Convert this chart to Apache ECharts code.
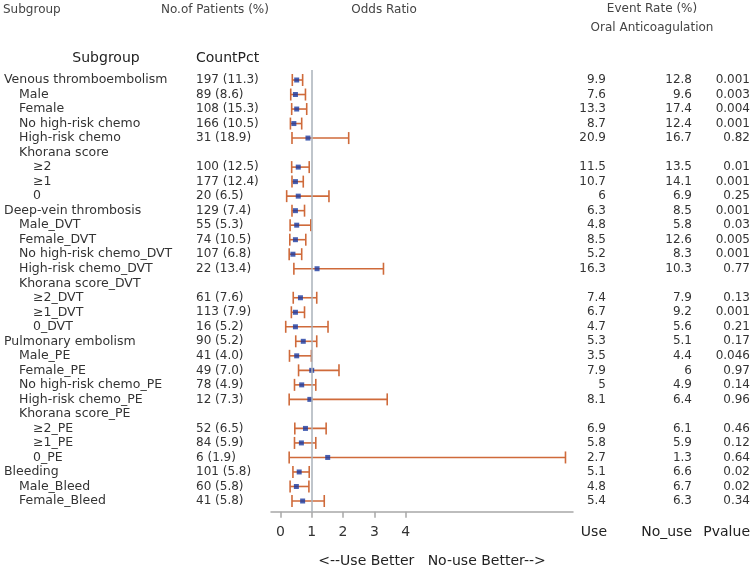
<!DOCTYPE html>
<html>
<head>
<meta charset="utf-8">
<script src="https://cdn.jsdelivr.net/npm/echarts@6/dist/echarts.min.js"></script>
<style>html,body{margin:0;padding:0;background:#fff;}#c{width:753px;height:570px;}</style>
</head>
<body>
<div id="c"></div>
<script>
const subgroups = ['Venous thromboembolism','Male','Female','No high-risk chemo','High-risk chemo','Khorana score','≥2','≥1','0','Deep-vein thrombosis','Male_DVT','Female_DVT','No high-risk chemo_DVT','High-risk chemo_DVT','Khorana score_DVT','≥2_DVT','≥1_DVT','0_DVT','Pulmonary embolism','Male_PE','Female_PE','No high-risk chemo_PE','High-risk chemo_PE','Khorana score_PE','≥2_PE','≥1_PE','0_PE','Bleeding','Male_Bleed','Female_Bleed'];
const levels = [1,2,2,2,2,2,3,3,3,1,2,2,2,2,2,3,3,3,1,2,2,2,2,2,3,3,3,1,2,2];
const counts = ['197 (11.3)','89 (8.6)','108 (15.3)','166 (10.5)','31 (18.9)','','100 (12.5)','177 (12.4)','20 (6.5)','129 (7.4)','55 (5.3)','74 (10.5)','107 (6.8)','22 (13.4)','','61 (7.6)','113 (7.9)','16 (5.2)','90 (5.2)','41 (4.0)','49 (7.0)','78 (4.9)','12 (7.3)','','52 (6.5)','84 (5.9)','6 (1.9)','101 (5.8)','60 (5.8)','41 (5.8)'];
const useRate = [9.9,7.6,13.3,8.7,20.9,null,11.5,10.7,6,6.3,4.8,8.5,5.2,16.3,null,7.4,6.7,4.7,5.3,3.5,7.9,5,8.1,null,6.9,5.8,2.7,5.1,4.8,5.4];
const noUseRate = [12.8,9.6,17.4,12.4,16.7,null,13.5,14.1,6.9,8.5,5.8,12.6,8.3,10.3,null,7.9,9.2,5.6,5.1,4.4,6,4.9,6.4,null,6.1,5.9,1.3,6.6,6.7,6.3];
const pValue = [0.001,0.003,0.004,0.001,0.82,null,0.01,0.001,0.25,0.001,0.03,0.005,0.001,0.77,null,0.13,0.001,0.21,0.17,0.046,0.97,0.14,0.96,null,0.46,0.12,0.64,0.02,0.02,0.34];
const oddsRatio = [0.52,0.48,0.52,0.43,0.88,null,0.57,0.48,0.57,0.48,0.52,0.48,0.40,1.17,null,0.64,0.48,0.48,0.73,0.52,1.00,0.68,0.94,null,0.80,0.67,1.51,0.60,0.51,0.71];
const ciLow = [0.38,0.33,0.36,0.32,0.37,null,0.36,0.37,0.20,0.37,0.31,0.30,0.28,0.43,null,0.41,0.35,0.17,0.49,0.29,0.58,0.45,0.28,null,0.46,0.45,0.28,0.40,0.31,0.37];
const ciHigh = [0.71,0.80,0.84,0.68,2.18,null,0.92,0.73,1.55,0.77,0.97,0.81,0.68,3.29,null,1.16,0.77,1.52,1.16,0.99,1.87,1.13,3.41,null,1.46,1.13,9.10,0.92,0.91,1.40];
const xTicks = [0,1,2,3,4];

const FONT = 'DejaVu Sans';
const TXT = '#333';

const ciData = [], ptData = [];
subgroups.forEach((s, i) => {
  if (oddsRatio[i] != null) {
    ciData.push([ciLow[i], ciHigh[i], i]);
    ptData.push([oddsRatio[i], i]);
  }
});

function fmtVal(arr) {
  return (v, i) => arr[i] == null ? '' : String(arr[i]);
}
function textAxis(pos, margin, align, formatter, size) {
  return {
    type: 'category', gridIndex: 1, position: pos, inverse: true, data: subgroups,
    axisLine: {show: false}, axisTick: {show: false}, splitLine: {show: false},
    axisLabel: {interval: 0, margin: margin, align: align, formatter: formatter,
      color: TXT, fontFamily: FONT, fontSize: size}
  };
}
const levelFmt = lv => (v, i) => levels[i] === lv ? v : '';

const chart = echarts.init(document.getElementById('c'), null, {renderer: 'canvas'});
chart.setOption({
  animation: false,
  backgroundColor: '#fff',
  grid: [
    {left: 271, right: 180, top: 70, bottom: 58.3},
    {left: 271, right: 180, top: 72.74, height: 435.6}
  ],
  xAxis: [
    {type: 'value', gridIndex: 0, min: -0.3, max: 9.34, position: 'bottom',
      axisLine: {show: true, onZero: false, lineStyle: {color: '#a8a8a8', width: 1.5}},
      axisTick: {show: true, length: 6, customValues: xTicks, lineStyle: {color: '#a8a8a8', width: 1.5}},
      axisLabel: {customValues: xTicks, margin: 14, color: TXT, fontFamily: FONT, fontSize: 14},
      splitLine: {show: false}},
    {type: 'value', gridIndex: 1, show: false}
  ],
  yAxis: [
    {type: 'value', gridIndex: 0, inverse: true, min: -0.689, max: 29.737, show: false},
    textAxis('left', 267, 'left', levelFmt(1), 12.5),
    textAxis('left', 252, 'left', levelFmt(2), 12.5),
    textAxis('left', 238, 'left', levelFmt(3), 12.5),
    textAxis('left', 75, 'left', fmtVal(counts), 12),
    textAxis('right', 33, 'right', fmtVal(useRate), 12),
    textAxis('right', 119, 'right', fmtVal(noUseRate), 12),
    textAxis('right', 177, 'right', fmtVal(pValue), 12)
  ],
  series: [
    {
      type: 'custom', xAxisIndex: 0, yAxisIndex: 0, data: ciData,
      encode: {x: [0, 1], y: 2},
      renderItem: (params, api) => {
        const y = api.value(2);
        const a = api.coord([api.value(0), y]);
        const b = api.coord([api.value(1), y]);
        const st = {stroke: '#cf6a3a', lineWidth: 1.6};
        const h = 6;
        return {type: 'group', children: [
          {type: 'line', shape: {x1: a[0], y1: a[1], x2: b[0], y2: b[1]}, style: st},
          {type: 'line', shape: {x1: a[0], y1: a[1] - h, x2: a[0], y2: a[1] + h}, style: st},
          {type: 'line', shape: {x1: b[0], y1: b[1] - h, x2: b[0], y2: b[1] + h}, style: st}
        ]};
      },
      markLine: {
        silent: true, symbol: 'none', label: {show: false},
        lineStyle: {color: '#aab2ba', width: 1.5, type: 'solid'},
        data: [{xAxis: 1}]
      },
      z: 2
    },
    {
      type: 'scatter', xAxisIndex: 0, yAxisIndex: 0, data: ptData,
      symbol: 'rect', symbolSize: 5, itemStyle: {color: '#1a3aa0'}, z: 3
    }
  ],
  graphic: [
    {type: 'text', style: {x: 3, y: 10, text: 'Subgroup', font: '12px "DejaVu Sans"', fill: '#444', textVerticalAlign: 'middle'}},
    {type: 'text', style: {x: 161, y: 10, text: 'No.of Patients (%)', font: '12px "DejaVu Sans"', fill: '#444', textVerticalAlign: 'middle'}},
    {type: 'text', style: {x: 384, y: 10, text: 'Odds Ratio', font: '12px "DejaVu Sans"', fill: '#444', textAlign: 'center', textVerticalAlign: 'middle'}},
    {type: 'text', style: {x: 652, y: 9, text: 'Event Rate (%)', font: '12px "DejaVu Sans"', fill: '#444', textAlign: 'center', textVerticalAlign: 'middle'}},
    {type: 'text', style: {x: 652, y: 28, text: 'Oral Anticoagulation', font: '12px "DejaVu Sans"', fill: '#444', textAlign: 'center', textVerticalAlign: 'middle'}},
    {type: 'text', style: {x: 106, y: 58, text: 'Subgroup', font: '14px "DejaVu Sans"', fill: '#222', textAlign: 'center', textVerticalAlign: 'middle'}},
    {type: 'text', style: {x: 196, y: 58, text: 'CountPct', font: '14px "DejaVu Sans"', fill: '#222', textVerticalAlign: 'middle'}},
    {type: 'text', style: {x: 607, y: 532, text: 'Use', font: '14px "DejaVu Sans"', fill: '#222', textAlign: 'right', textVerticalAlign: 'middle'}},
    {type: 'text', style: {x: 692, y: 532, text: 'No_use', font: '14px "DejaVu Sans"', fill: '#222', textAlign: 'right', textVerticalAlign: 'middle'}},
    {type: 'text', style: {x: 750, y: 532, text: 'Pvalue', font: '14px "DejaVu Sans"', fill: '#222', textAlign: 'right', textVerticalAlign: 'middle'}},
    {type: 'text', style: {x: 432, y: 561, text: '<--Use Better   No-use Better-->', font: '14px "DejaVu Sans"', fill: '#222', textAlign: 'center', textVerticalAlign: 'middle'}}
  ]
});
</script>
</body>
</html>
